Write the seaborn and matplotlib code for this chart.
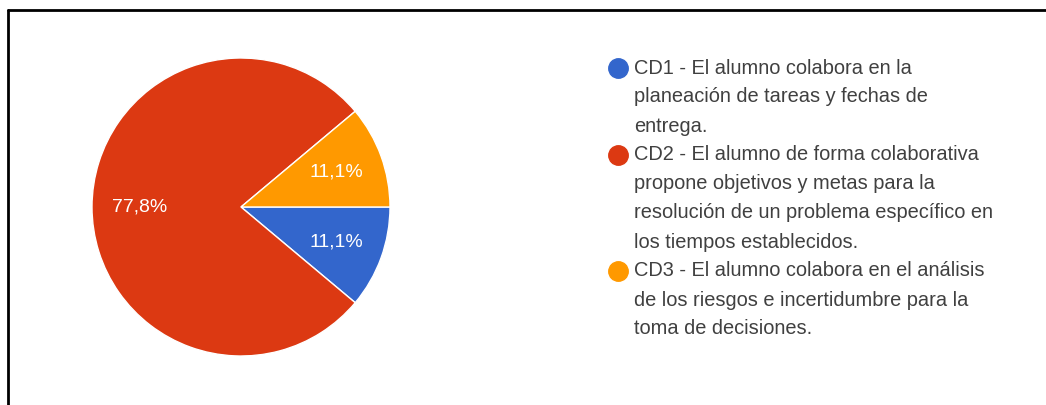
import matplotlib
matplotlib.use("Agg")
import matplotlib.pyplot as plt
import seaborn as sns
from matplotlib.lines import Line2D

# Datos del gráfico
categorias = ["CD1", "CD2", "CD3"]
porcentajes = [11.1, 77.8, 11.1]
colores = ["#3366CC", "#DC3912", "#FF9900"]

# Texto de la leyenda, ya cortado en líneas
leyenda_lineas = [
    ["CD1 - El alumno colabora en la",
     "planeación de tareas y fechas de",
     "entrega."],
    ["CD2 - El alumno de forma colaborativa",
     "propone objetivos y metas para la",
     "resolución de un problema específico en",
     "los tiempos establecidos."],
    ["CD3 - El alumno colabora en el análisis",
     "de los riesgos e incertidumbre para la",
     "toma de decisiones."],
]

sns.set_theme(style="white")
plt.rcParams['font.family'] = ['Liberation Sans', 'DejaVu Sans']

W, H = 1046, 405
fig = plt.figure(figsize=(W / 100, H / 100), dpi=100)
fig.patch.set_facecolor("white")

# Pastel
cx, cy, r = 241, 207, 149
ax = fig.add_axes([(cx - r) / W, (H - cy - r) / H, 2 * r / W, 2 * r / H])
ax.pie(
    porcentajes,
    colors=colores,
    startangle=0,
    counterclock=False,
    autopct=lambda p: f"{p:.1f}%".replace(".", ","),
    pctdistance=0.68,
    textprops={"color": "white", "fontsize": 14},
    wedgeprops={"edgecolor": "white", "linewidth": 1},
)
ax.set_xlim(-1, 1)
ax.set_ylim(-1, 1)
ax.set_aspect("equal")
ax.axis("off")

# Leyenda manual (marcador en la primera línea de cada entrada)
lx_marker, lx_text = 618, 634
y0, paso = 68, 29
fila = 0
for color, lineas in zip(colores, leyenda_lineas):
    y = y0 + fila * paso
    fig.add_artist(Line2D([lx_marker / W], [(H - y) / H], marker="o",
                          markersize=14, color=color, linestyle="none"))
    for linea in lineas:
        fig.text(lx_text / W, (H - (y0 + fila * paso)) / H, linea,
                 fontsize=14.4, color="#404040", va="center", ha="left")
        fila += 1

# Marco (solo arriba e izquierda)
fig.add_artist(Line2D([8 / W, 8 / W], [0, (H - 10) / H], color="black", linewidth=2))
fig.add_artist(Line2D([8 / W, 1], [(H - 10) / H, (H - 10) / H], color="black", linewidth=2))

fig.savefig("out.png", dpi=100, facecolor="white")
